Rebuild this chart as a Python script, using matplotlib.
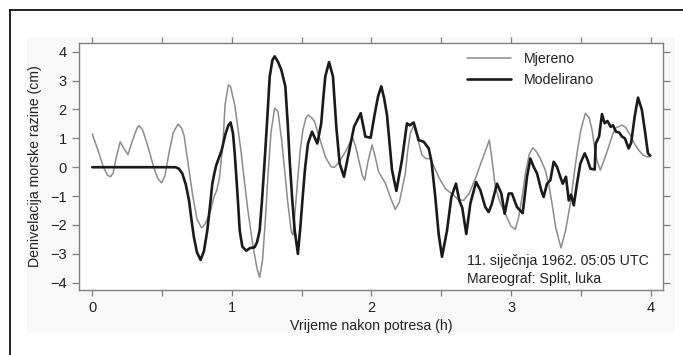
import matplotlib
matplotlib.use("Agg")
import matplotlib.pyplot as plt
from matplotlib.lines import Line2D
from matplotlib.patches import Rectangle
from matplotlib.ticker import MultipleLocator

plt.rcParams['font.family'] = ['Liberation Sans', 'DejaVu Sans']

# ---- data (time in hours, sea level deviation in cm) ----
t_measured = [0.0, 0.04, 0.08, 0.11, 0.13, 0.15, 0.17, 0.2, 0.23, 0.256, 0.29, 0.32, 0.335, 0.36, 0.40,
              0.44, 0.47, 0.497, 0.52, 0.55, 0.58, 0.614, 0.64, 0.657, 0.675, 0.693, 0.72, 0.75, 0.783,
              0.81, 0.848, 0.87, 0.891, 0.91, 0.936, 0.951, 0.975, 0.99, 1.02, 1.045, 1.067, 1.09, 1.115,
              1.15, 1.18, 1.199, 1.22, 1.24, 1.258, 1.28, 1.306, 1.33, 1.355, 1.378, 1.40, 1.426, 1.438,
              1.455, 1.473, 1.49, 1.509, 1.53, 1.545, 1.57, 1.593, 1.615, 1.64, 1.67, 1.712, 1.735, 1.76,
              1.79, 1.82, 1.845, 1.867, 1.89, 1.915, 1.935, 1.951, 1.975, 2.004, 2.025, 2.05, 2.099, 2.14,
              2.17, 2.2, 2.242, 2.26, 2.278, 2.302, 2.33, 2.362, 2.39, 2.421, 2.45, 2.481, 2.53, 2.589,
              2.62, 2.66, 2.7, 2.744, 2.8, 2.844, 2.865, 2.887, 2.92, 2.958, 3.0, 3.03, 3.054, 3.08, 3.102,
              3.13, 3.155, 3.18, 3.209, 3.245, 3.27, 3.293, 3.32, 3.357, 3.39, 3.424, 3.45, 3.472, 3.5,
              3.532, 3.56, 3.58, 3.6, 3.615, 3.639, 3.67, 3.699, 3.725, 3.746, 3.794, 3.82, 3.854, 3.885,
              3.914, 3.945, 3.974, 3.997]
v_measured = [1.15, 0.6, 0.0, -0.28, -0.33, -0.2, 0.3, 0.88, 0.62, 0.44, 0.95, 1.35, 1.44, 1.3, 0.7,
              0.0, -0.4, -0.54, -0.3, 0.5, 1.2, 1.49, 1.35, 1.11, 0.5, -0.1, -1.0, -1.8, -2.1,
              -1.95, -1.5, -1.05, -0.81, -0.4, 0.82, 2.16, 2.85, 2.8, 2.16, 1.3, 0.48, -0.5, -1.5,
              -2.7, -3.5, -3.81, -3.2, -1.8, -0.33, 1.2, 2.04, 1.93, 1.0, -0.1, -1.2, -2.25, -2.35,
              -1.4, -0.33, 0.6, 1.29, 1.7, 1.81, 1.72, 1.58, 1.2, 0.82, 0.35, 0.01, 0.0, 0.13,
              0.35, 0.59, 0.85, 1.0, 0.65, 0.13, -0.3, -0.45, 0.2, 0.77, 0.4, -0.15, -0.55, -1.1,
              -1.46, -1.2, -0.22, 0.6, 1.17, 1.46, 1.0, 0.42, 0.3, 0.3, 0.0, -0.34, -0.75, -0.97,
              -1.12, -1.15, -0.9, -0.39, 0.35, 0.94, 0.2, -0.68, -1.2, -1.61, -2.05, -2.15, -1.73, -1.0, -0.22,
              0.45, 0.67, 0.55, 0.3, -0.1, -0.6, -1.26, -2.1, -2.79, -2.2, -1.26, -0.3, 0.48, 1.3,
              1.87, 1.7, 1.29, 0.6, 0.24, -0.1, 0.3, 0.71, 1.1, 1.35, 1.46, 1.38, 1.11, 0.8,
              0.59, 0.42, 0.36, 0.37]

t_modelled = [0.0, 0.597, 0.62, 0.645, 0.67, 0.693, 0.71, 0.728, 0.75, 0.776, 0.80, 0.824, 0.842, 0.86,
              0.875, 0.888, 0.905, 0.927, 0.955, 0.975, 0.991, 1.008, 1.02, 1.032, 1.045, 1.056, 1.075,
              1.103, 1.13, 1.163, 1.18, 1.199, 1.215, 1.235, 1.255, 1.271, 1.29, 1.306, 1.33, 1.354,
              1.383, 1.40, 1.414, 1.432, 1.45, 1.473, 1.49, 1.509, 1.525, 1.545, 1.574, 1.612, 1.64,
              1.655, 1.669, 1.696, 1.724, 1.748, 1.772, 1.803, 1.832, 1.875, 1.923, 1.956, 1.994, 2.022,
              2.047, 2.07, 2.09, 2.111, 2.147, 2.178, 2.218, 2.254, 2.275, 2.302, 2.338, 2.374, 2.41,
              2.43, 2.457, 2.481, 2.505, 2.541, 2.572, 2.605, 2.629, 2.65, 2.679, 2.708, 2.749, 2.78,
              2.815, 2.839, 2.86, 2.899, 2.93, 2.954, 2.983, 3.006, 3.042, 3.083, 3.114, 3.138, 3.162,
              3.186, 3.216, 3.233, 3.257, 3.281, 3.305, 3.329, 3.35, 3.37, 3.393, 3.413, 3.43, 3.449,
              3.472, 3.496, 3.527, 3.544, 3.568, 3.599, 3.606, 3.63, 3.651, 3.67, 3.69, 3.713, 3.73,
              3.751, 3.775, 3.794, 3.815, 3.842, 3.86, 3.885, 3.909, 3.937, 3.961, 3.98, 3.997]
v_modelled = [0.0, 0.0, -0.05, -0.22, -0.6, -1.15, -1.8, -2.42, -2.95, -3.21, -2.9, -2.19, -1.4, -0.57,
              -0.2, 0.07, 0.3, 0.59, 1.17, 1.45, 1.55, 1.17, 0.5, -0.33, -1.3, -2.19, -2.75,
              -2.89, -2.8, -2.77, -2.6, -2.19, -1.2, 0.24, 1.8, 3.14, 3.7, 3.84, 3.65, 3.37,
              2.8, 1.5, 0.24, -1.1, -2.19, -3.0, -2.1, -0.92, 0.0, 0.82, 1.23, 0.82, 1.52,
              2.4, 3.14, 3.64, 3.14, 1.4, 0.13, -0.33, 0.36, 1.4, 1.87, 1.06, 1.02, 1.81,
              2.45, 2.8, 2.4, 1.81, -0.1, -0.82, 0.24, 1.52, 1.45, 1.55, 0.94, 0.88, 0.65,
              0.19, -1.03, -2.31, -3.1, -2.19, -1.03, -0.57, -1.15, -1.4, -2.31, -1.26, -0.51, -0.8,
              -1.38, -1.55, -1.3, -0.57, -0.91, -1.61, -0.91, -0.91, -1.38, -1.59, -0.33, 0.3, 0.01,
              -0.22, -0.8, -1.03, -0.57, -0.45, 0.19, 0.01, -0.3, -0.57, -0.33, -1.15, -0.95, -1.32,
              -0.57, 0.13, 0.48, 0.3, -0.05, -0.08, 0.82, 1.06, 1.84, 1.52, 1.6, 1.4, 1.45,
              1.23, 1.2, 1.06, 1.0, 0.65, 0.85, 1.75, 2.41, 1.98, 1.17, 0.48, 0.4]

series_labels = ["Mjereno", "Modelirano"]
x_ticks = [0, 1, 2, 3, 4]
y_ticks = [-4, -3, -2, -1, 0, 1, 2, 3, 4]
x_label = "Vrijeme nakon potresa (h)"
y_label = "Denivelacija morske razine (cm)"
note_lines = ["11. siječnja 1962. 05:05 UTC", "Mareograf: Split, luka"]

W, H = 683, 355
fig = plt.figure(figsize=(W / 100, H / 100), dpi=100)

# faint background panel and outer frame
fig.add_artist(Rectangle((27 / W, 1 - 333 / H), (675 - 27) / W, (333 - 37) / H,
                         transform=fig.transFigure, facecolor='#f8f8f8', edgecolor='none', zorder=0))
fig.add_artist(Line2D([10 / W, 10 / W], [0, 1 - 10 / H], transform=fig.transFigure,
                      color='#111111', lw=1.3))
fig.add_artist(Line2D([10 / W, 1], [1 - 10 / H, 1 - 10 / H], transform=fig.transFigure,
                      color='#111111', lw=1.3))

ax = fig.add_axes([79 / W, 1 - 290 / H, (663 - 79) / W, (290 - 43) / H])
ax.set_facecolor('white')

ax.plot(t_measured, v_measured, color='#8c8c8c', lw=1.1, label=series_labels[0],
        solid_joinstyle='round', solid_capstyle='round')
ax.plot(t_modelled, v_modelled, color='#1a1a1a', lw=1.9, label=series_labels[1],
        solid_joinstyle='round', solid_capstyle='round')

ax.set_xlim(-0.095, 4.088)
ax.set_ylim(-4.25, 4.3)

ax.set_xticks(x_ticks)
ax.xaxis.set_minor_locator(MultipleLocator(0.5))
ax.set_yticks(y_ticks)
ax.set_yticklabels([("\u2212" + str(-v)) if v < 0 else str(v) for v in y_ticks])

for s in ax.spines.values():
    s.set_color('#808080')
    s.set_linewidth(1.0)

ax.tick_params(axis='both', which='both', direction='out', color='#808080', width=0.9,
               labelsize=10.5, labelcolor='#222222')
ax.tick_params(axis='x', which='both', length=4, top=True, pad=4)
ax.tick_params(axis='y', which='both', length=5, right=True, pad=4)
ax.tick_params(axis='y', which='major', labelright=False)

ax.set_xlabel(x_label, fontsize=10.2, color='#222222')
ax.set_ylabel(y_label, fontsize=10.2, color='#222222')
ax.xaxis.set_label_coords(0.5, -(326 - 290) / (290 - 43), transform=ax.transAxes)
ax.yaxis.set_label_coords(-(79 - 35) / (663 - 79), 0.5, transform=ax.transAxes)
ax.xaxis.label.set_va('center')
ax.yaxis.label.set_va('center')

leg = ax.legend(loc='upper left', bbox_to_anchor=((467 - 79) / (663 - 79), 1 - (52 - 43) / (290 - 43)),
                frameon=False, fontsize=10.2, handlelength=3.1, handletextpad=0.9,
                labelspacing=0.5, borderpad=0, borderaxespad=0)
for txt in leg.get_texts():
    txt.set_color('#222222')

ax.text((467 - 79) / (663 - 79), 1 - (261 - 43) / (290 - 43), note_lines[0], transform=ax.transAxes,
        fontsize=10.2, color='#222222', va='center', ha='left')
ax.text((467 - 79) / (663 - 79), 1 - (278.5 - 43) / (290 - 43), note_lines[1], transform=ax.transAxes,
        fontsize=10.2, color='#222222', va='center', ha='left')

fig.savefig("out.png", dpi=100)
